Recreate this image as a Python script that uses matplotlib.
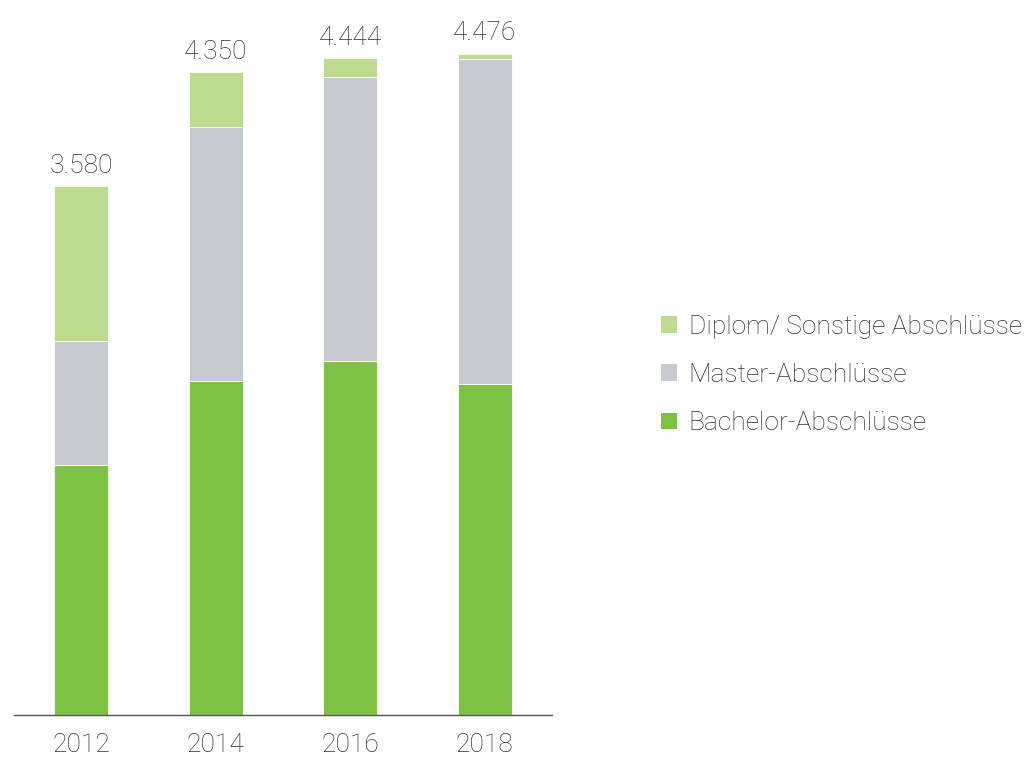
import matplotlib
matplotlib.use("Agg")
import matplotlib.pyplot as plt
from matplotlib.patches import Patch

years = ["2012", "2014", "2016", "2018"]
bachelor = [1692, 2260, 2396, 2240]
master = [839, 1719, 1921, 2199]
diplom = [1049, 371, 127, 37]
totals = [3580, 4350, 4444, 4476]
total_labels = ["3.580", "4.350", "4.444", "4.476"]

c_bachelor = "#7DC242"
c_master = "#C7CACF"
c_diplom = "#BEDC90"
txt = "#333333"

plt.rcParams['font.family'] = ['Roboto', 'DejaVu Sans']
FW = "light"
FS = 19

fig = plt.figure(figsize=(10.26, 7.58), dpi=100)
ax = fig.add_axes([14/1026, 1-715/758, (552-14)/1026, (715-40)/758])

x = list(range(len(years)))
w = 0.4
ax.bar(x, bachelor, width=w, color=c_bachelor, edgecolor="white", linewidth=0.6)
bot2 = bachelor
ax.bar(x, master, width=w, bottom=bot2, color=c_master, edgecolor="white", linewidth=0.6)
bot3 = [b + m for b, m in zip(bachelor, master)]
ax.bar(x, diplom, width=w, bottom=bot3, color=c_diplom, edgecolor="white", linewidth=0.6)

for xi, t, lab in zip(x, totals, total_labels):
    ax.annotate(lab, (xi, t), xytext=(0, 6), textcoords="offset points",
                ha="center", va="bottom", fontsize=FS, color=txt, fontweight=FW)

ax.set_xlim(-0.5, 3.5)
ax.set_ylim(0, 675 * 3580 / 529)
ax.set_xticks(x)
ax.set_xticklabels(years, fontsize=FS, color=txt, fontweight=FW)
ax.tick_params(axis="x", length=0, pad=13)
ax.set_yticks([])
for s in ["top", "right", "left"]:
    ax.spines[s].set_visible(False)
ax.spines["bottom"].set_color("#555555")
ax.spines["bottom"].set_linewidth(1.0)

handles = [Patch(facecolor=c_diplom, edgecolor="none"),
           Patch(facecolor=c_master, edgecolor="none"),
           Patch(facecolor=c_bachelor, edgecolor="none")]
labels = ["Diplom/ Sonstige Abschlüsse", "Master-Abschlüsse", "Bachelor-Abschlüsse"]
leg = fig.legend(handles, labels, loc="center left",
                 bbox_to_anchor=(661/1026, 1-375/758), frameon=False,
                 prop={"size": FS, "weight": FW},
                 handlelength=0.6, handleheight=0.6,
                 handletextpad=0.45, labelspacing=0.92, borderaxespad=0, borderpad=0)
for t in leg.get_texts():
    t.set_color(txt)

fig.savefig("out.png", dpi=100)
